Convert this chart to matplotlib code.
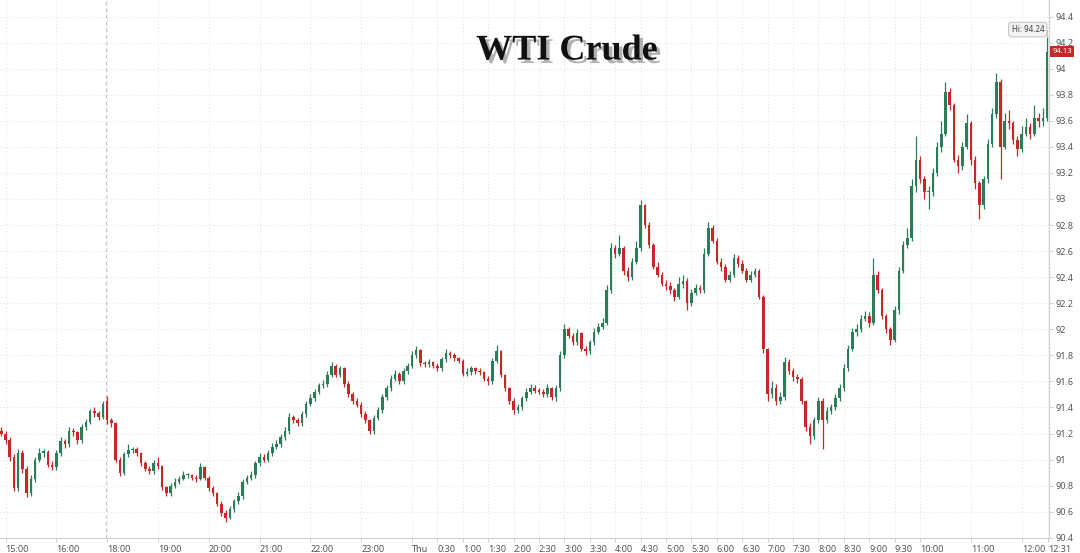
import matplotlib
matplotlib.use("Agg")
import matplotlib.pyplot as plt
import matplotlib.patheffects as pe
import matplotlib.transforms as mtransforms
import numpy as np

# 5-minute candles, index 0 = 14:55 ; session break 17:00-18:00 removed
opens = [91.22, 91.20, 91.15, 91.02, 90.78, 91.05, 90.93, 90.74, 90.85, 91.00,
         91.05, 91.06, 90.96, 90.94, 91.05, 91.14, 91.12, 91.22, 91.21, 91.15,
         91.25, 91.29, 91.37, 91.36, 91.33, 91.45, 91.30, 91.28, 91.00, 90.90,
         91.04, 91.07, 91.08, 91.05, 90.97, 90.93, 90.91, 90.97, 90.95, 90.79,
         90.74, 90.80, 90.83, 90.85, 90.88, 90.88, 90.86, 90.85, 90.94, 90.86,
         90.78, 90.74, 90.66, 90.59, 90.55, 90.62, 90.68, 90.72, 90.83, 90.86,
         90.88, 90.97, 91.02, 91.00, 91.05, 91.10, 91.12, 91.17, 91.22, 91.33,
         91.30, 91.28, 91.35, 91.43, 91.47, 91.52, 91.57, 91.58, 91.65, 91.72,
         91.65, 91.70, 91.58, 91.50, 91.45, 91.42, 91.35, 91.30, 91.22, 91.32,
         91.38, 91.48, 91.55, 91.62, 91.66, 91.60, 91.68, 91.72, 91.80, 91.84,
         91.74, 91.73, 91.75, 91.72, 91.70, 91.77, 91.82, 91.80, 91.78, 91.76,
         91.66, 91.67, 91.70, 91.68, 91.67, 91.62, 91.60, 91.76, 91.83, 91.65,
         91.55, 91.45, 91.38, 91.40, 91.47, 91.52, 91.55, 91.53, 91.52, 91.50,
         91.55, 91.48, 91.55, 91.80, 92.00, 91.95, 91.90, 91.97, 91.85, 91.83,
         91.90, 91.98, 92.02, 92.05, 92.30, 92.62, 92.58, 92.62, 92.45, 92.40,
         92.52, 92.62, 92.95, 92.80, 92.65, 92.48, 92.42, 92.35, 92.33, 92.30,
         92.25, 92.35, 92.37, 92.20, 92.28, 92.32, 92.30, 92.58, 92.78, 92.68,
         92.52, 92.48, 92.38, 92.42, 92.55, 92.50, 92.45, 92.38, 92.42, 92.45,
         92.25, 91.85, 91.50, 91.55, 91.45, 91.48, 91.75, 91.68, 91.63, 91.62,
         91.45, 91.25, 91.18, 91.30, 91.45, 91.30, 91.37, 91.40, 91.47, 91.55,
         91.70, 91.85, 91.98, 92.00, 92.08, 92.10, 92.05, 92.42, 92.30, 92.10,
         92.00, 91.92, 92.15, 92.45, 92.65, 92.70, 93.10, 93.30, 93.15, 93.05,
         93.05, 93.20, 93.40, 93.50, 93.82, 93.72, 93.30, 93.25, 93.40, 93.58,
         93.30, 93.12, 92.95, 93.15, 93.42, 93.65, 93.90, 93.40, 93.60, 93.58,
         93.45, 93.38, 93.50, 93.55, 93.50, 93.62, 93.60, 93.62]

closes = [91.20, 91.15, 91.02, 90.78, 91.05, 90.93, 90.74, 90.85, 91.00, 91.05,
          91.06, 90.96, 90.94, 91.05, 91.14, 91.12, 91.22, 91.21, 91.15, 91.25,
          91.29, 91.37, 91.36, 91.33, 91.43, 91.30, 91.28, 91.00, 90.90, 91.04,
          91.07, 91.08, 91.05, 90.97, 90.93, 90.91, 90.97, 90.95, 90.79, 90.74,
          90.80, 90.83, 90.85, 90.88, 90.88, 90.86, 90.85, 90.94, 90.86, 90.78,
          90.74, 90.66, 90.59, 90.55, 90.62, 90.68, 90.72, 90.83, 90.86, 90.88,
          90.97, 91.02, 91.00, 91.05, 91.10, 91.12, 91.17, 91.22, 91.33, 91.30,
          91.28, 91.35, 91.43, 91.47, 91.52, 91.57, 91.58, 91.65, 91.72, 91.65,
          91.70, 91.58, 91.50, 91.45, 91.42, 91.35, 91.30, 91.22, 91.32, 91.38,
          91.48, 91.55, 91.62, 91.66, 91.60, 91.68, 91.72, 91.80, 91.84, 91.74,
          91.73, 91.75, 91.72, 91.70, 91.77, 91.82, 91.80, 91.78, 91.76, 91.66,
          91.67, 91.70, 91.68, 91.67, 91.62, 91.60, 91.76, 91.83, 91.65, 91.55,
          91.45, 91.38, 91.40, 91.47, 91.52, 91.55, 91.53, 91.52, 91.50, 91.55,
          91.48, 91.55, 91.80, 92.00, 91.95, 91.90, 91.97, 91.85, 91.83, 91.90,
          91.98, 92.02, 92.05, 92.30, 92.62, 92.58, 92.62, 92.45, 92.40, 92.52,
          92.62, 92.95, 92.80, 92.65, 92.48, 92.42, 92.35, 92.33, 92.30, 92.25,
          92.35, 92.37, 92.20, 92.28, 92.32, 92.30, 92.58, 92.78, 92.68, 92.52,
          92.48, 92.38, 92.42, 92.55, 92.50, 92.45, 92.38, 92.42, 92.45, 92.25,
          91.85, 91.50, 91.55, 91.45, 91.48, 91.75, 91.68, 91.63, 91.62, 91.45,
          91.25, 91.18, 91.30, 91.45, 91.30, 91.37, 91.40, 91.47, 91.55, 91.70,
          91.85, 91.98, 92.00, 92.08, 92.10, 92.05, 92.42, 92.30, 92.10, 92.00,
          91.92, 92.15, 92.45, 92.65, 92.70, 93.10, 93.30, 93.15, 93.05, 93.05,
          93.20, 93.40, 93.50, 93.82, 93.72, 93.30, 93.25, 93.40, 93.58, 93.30,
          93.12, 92.95, 93.15, 93.42, 93.65, 93.90, 93.40, 93.60, 93.58, 93.45,
          93.38, 93.50, 93.55, 93.50, 93.62, 93.60, 93.62, 94.13]

highs = [91.25, 91.22, 91.17, 91.04, 91.08, 91.07, 90.95, 90.88, 91.02, 91.09,
         91.08, 91.07, 90.99, 91.07, 91.17, 91.16, 91.25, 91.24, 91.22, 91.27,
         91.31, 91.39, 91.40, 91.37, 91.45, 91.49, 91.32, 91.29, 91.02, 91.06,
         91.12, 91.10, 91.10, 91.06, 90.99, 90.95, 91.00, 91.02, 90.96, 90.80,
         90.82, 90.86, 90.87, 90.91, 90.90, 90.89, 90.88, 90.97, 90.95, 90.87,
         90.80, 90.75, 90.68, 90.61, 90.64, 90.70, 90.75, 90.85, 90.88, 90.91,
         90.99, 91.05, 91.04, 91.07, 91.13, 91.15, 91.20, 91.25, 91.36, 91.34,
         91.32, 91.37, 91.45, 91.50, 91.54, 91.59, 91.61, 91.68, 91.75, 91.73,
         91.72, 91.71, 91.60, 91.52, 91.47, 91.44, 91.37, 91.31, 91.34, 91.40,
         91.50, 91.57, 91.65, 91.69, 91.67, 91.70, 91.74, 91.83, 91.87, 91.85,
         91.76, 91.77, 91.76, 91.74, 91.79, 91.85, 91.83, 91.82, 91.79, 91.77,
         91.70, 91.72, 91.71, 91.70, 91.68, 91.64, 91.78, 91.88, 91.84, 91.66,
         91.56, 91.47, 91.43, 91.49, 91.55, 91.58, 91.57, 91.55, 91.54, 91.58,
         91.56, 91.57, 91.83, 92.04, 92.02, 91.97, 92.00, 91.98, 91.87, 91.92,
         92.01, 92.05, 92.09, 92.34, 92.66, 92.65, 92.72, 92.64, 92.48, 92.55,
         92.68, 92.99, 92.96, 92.82, 92.66, 92.52, 92.44, 92.38, 92.36, 92.32,
         92.40, 92.42, 92.39, 92.31, 92.35, 92.34, 92.62, 92.82, 92.80, 92.70,
         92.55, 92.50, 92.45, 92.58, 92.57, 92.53, 92.47, 92.45, 92.47, 92.46,
         92.26, 91.86, 91.60, 91.58, 91.52, 91.79, 91.77, 91.70, 91.66, 91.63,
         91.46, 91.28, 91.33, 91.48, 91.47, 91.40, 91.43, 91.50, 91.58, 91.73,
         91.88, 92.01, 92.04, 92.11, 92.14, 92.13, 92.55, 92.45, 92.32, 92.12,
         92.02, 92.18, 92.48, 92.68, 92.78, 93.15, 93.48, 93.33, 93.18, 93.10,
         93.24, 93.44, 93.60, 93.90, 93.85, 93.74, 93.34, 93.44, 93.65, 93.60,
         93.33, 93.14, 93.18, 93.46, 93.70, 93.97, 93.92, 93.66, 93.68, 93.60,
         93.48, 93.56, 93.62, 93.58, 93.72, 93.66, 93.70, 94.24]

lows = [91.18, 91.12, 90.99, 90.76, 90.76, 90.90, 90.71, 90.72, 90.83, 90.98,
        91.02, 90.94, 90.92, 90.92, 91.03, 91.09, 91.10, 91.18, 91.12, 91.13,
        91.23, 91.27, 91.33, 91.30, 91.31, 91.27, 91.25, 90.98, 90.87, 90.88,
        91.02, 91.05, 91.03, 90.95, 90.91, 90.89, 90.89, 90.93, 90.77, 90.72,
        90.72, 90.78, 90.81, 90.84, 90.86, 90.84, 90.83, 90.84, 90.84, 90.76,
        90.72, 90.64, 90.57, 90.52, 90.54, 90.60, 90.66, 90.70, 90.81, 90.84,
        90.86, 90.95, 90.98, 90.98, 91.03, 91.08, 91.10, 91.15, 91.20, 91.28,
        91.26, 91.26, 91.33, 91.41, 91.45, 91.50, 91.55, 91.56, 91.63, 91.63,
        91.63, 91.56, 91.48, 91.43, 91.40, 91.33, 91.28, 91.20, 91.20, 91.30,
        91.36, 91.46, 91.53, 91.60, 91.58, 91.58, 91.66, 91.70, 91.78, 91.72,
        91.71, 91.71, 91.70, 91.68, 91.68, 91.75, 91.78, 91.76, 91.74, 91.64,
        91.64, 91.65, 91.66, 91.65, 91.60, 91.57, 91.58, 91.74, 91.63, 91.53,
        91.43, 91.35, 91.36, 91.38, 91.45, 91.50, 91.51, 91.50, 91.48, 91.48,
        91.46, 91.45, 91.53, 91.78, 91.93, 91.88, 91.88, 91.83, 91.80, 91.81,
        91.88, 91.96, 92.00, 92.03, 92.28, 92.55, 92.56, 92.42, 92.37, 92.38,
        92.50, 92.60, 92.78, 92.62, 92.46, 92.40, 92.33, 92.30, 92.27, 92.22,
        92.23, 92.32, 92.15, 92.18, 92.26, 92.28, 92.28, 92.56, 92.66, 92.50,
        92.45, 92.36, 92.36, 92.40, 92.48, 92.43, 92.36, 92.36, 92.40, 92.23,
        91.82, 91.45, 91.47, 91.42, 91.43, 91.46, 91.66, 91.60, 91.59, 91.43,
        91.22, 91.12, 91.16, 91.28, 91.08, 91.28, 91.35, 91.38, 91.45, 91.53,
        91.68, 91.83, 91.95, 91.98, 92.06, 92.02, 92.03, 92.28, 92.08, 91.97,
        91.88, 91.90, 92.12, 92.43, 92.62, 92.68, 93.05, 93.12, 93.00, 92.92,
        93.02, 93.18, 93.36, 93.48, 93.68, 93.28, 93.20, 93.22, 93.38, 93.26,
        93.08, 92.85, 92.92, 93.12, 93.40, 93.62, 93.15, 93.38, 93.54, 93.42,
        93.33, 93.36, 93.48, 93.46, 93.48, 93.55, 93.56, 93.60]

# x tick positions (candle index) and labels
tick_pos = [1, 13, 25, 37, 49, 61, 73, 85, 97, 103, 109, 115, 121, 127, 133,
            139, 145, 151, 157, 163, 169, 175, 181, 187, 193, 199, 205, 211,
            217, 229, 241, 247.2]
tick_labels = ["15:00", "16:00", "18:00", "19:00", "20:00", "21:00", "22:00",
               "23:00", "Thu", "0:30", "1:00", "1:30", "2:00", "2:30", "3:00",
               "3:30", "4:00", "4:30", "5:00", "5:30", "6:00", "6:30", "7:00",
               "7:30", "8:00", "8:30", "9:00", "9:30", "10:00", "11:00",
               "12:00", "12:31"]
y_ticks = [90.4, 90.6, 90.8, 91.0, 91.2, 91.4, 91.6, 91.8, 92.0, 92.2, 92.4,
           92.6, 92.8, 93.0, 93.2, 93.4, 93.6, 93.8, 94.0, 94.2, 94.4]
session_break = 25
title = "WTI Crude"
hi_value = 94.24
last_value = 94.13

UP = "#2b7d5a"
DOWN = "#c62828"

plt.rcParams["font.family"] = ["Noto Sans", "DejaVu Sans"]

fig = plt.figure(figsize=(10.8, 5.53), dpi=100)
fig.patch.set_facecolor("white")
ax = fig.add_axes([0, 15 / 553, 1049 / 1080, 538 / 553])
ax.set_facecolor("white")

o = np.array(opens)
c = np.array(closes)
h = np.array(highs)
l = np.array(lows)
x = np.arange(len(c))
cols = [UP if cc >= oo else DOWN for oo, cc in zip(o, c)]

ax.vlines(x, l, h, colors=cols, linewidth=0.9, zorder=3)
body_low = np.minimum(o, c)
body_h = np.maximum(np.abs(c - o), 0.012)
ax.bar(x, body_h, bottom=body_low, width=0.6, color=cols, linewidth=0, zorder=4)

ax.set_xlim(-0.3, 247.45)
ax.set_ylim(90.398, 94.527)

ax.set_xticks(tick_pos)
ax.set_xticklabels(tick_labels)
for lab in ax.get_xticklabels():
    lab.set_horizontalalignment("left")
ax.set_yticks(y_ticks)
ax.set_yticklabels([f"{v:g}" for v in y_ticks])
ax.yaxis.tick_right()
ax.tick_params(axis="x", colors="#c8c8c8", labelcolor="#555555", labelsize=6.5,
               length=3, width=0.6, pad=2)
ax.tick_params(axis="y", colors="#c8c8c8", labelcolor="#555555", labelsize=6.5,
               length=3, width=0.6, pad=2)

ax.grid(True, linestyle=(0, (1, 3)), color="#d4d4d4", linewidth=0.6, zorder=0)
ax.axvline(session_break - 0.3, color="#c4c4c4", linestyle=(0, (3, 3)),
           linewidth=0.8, zorder=1)

for side in ["top", "left"]:
    ax.spines[side].set_visible(False)
for side in ["right", "bottom"]:
    ax.spines[side].set_color("#d0d0d0")
    ax.spines[side].set_linewidth(0.8)

# title with shadow
fig.text(567 / 1080, 1 - 51 / 553, title, ha="center", va="center",
         fontsize=26, fontweight="bold", family="Liberation Serif",
         color="#111111",
         path_effects=[pe.SimplePatchShadow(offset=(2.5, -2.5),
                                            shadow_rgbFace="#555555",
                                            alpha=0.45),
                       pe.Normal()])

# Hi label
ax.text(246.3, 94.30, f"Hi: {hi_value:.2f}", ha="right", va="center",
        fontsize=5.8, color="#444444", zorder=6,
        bbox=dict(boxstyle="round,pad=0.35", fc="#f2f2f2", ec="#b8b8b8",
                  lw=0.6))
ax.plot([246.6, 247.0, 247.0], [94.30, 94.30, hi_value], color="#b8b8b8",
        lw=0.6, zorder=5)

# last price tag
trans = mtransforms.blended_transform_factory(ax.transAxes, ax.transData)
ax.text(1.003, last_value, f"{last_value:.2f}", transform=trans, ha="left",
        va="center", fontsize=5.5, color="white", zorder=7, clip_on=False,
        bbox=dict(boxstyle="square,pad=0.25", fc=DOWN, ec="none"))

fig.savefig("out.png", dpi=100, facecolor="white")
